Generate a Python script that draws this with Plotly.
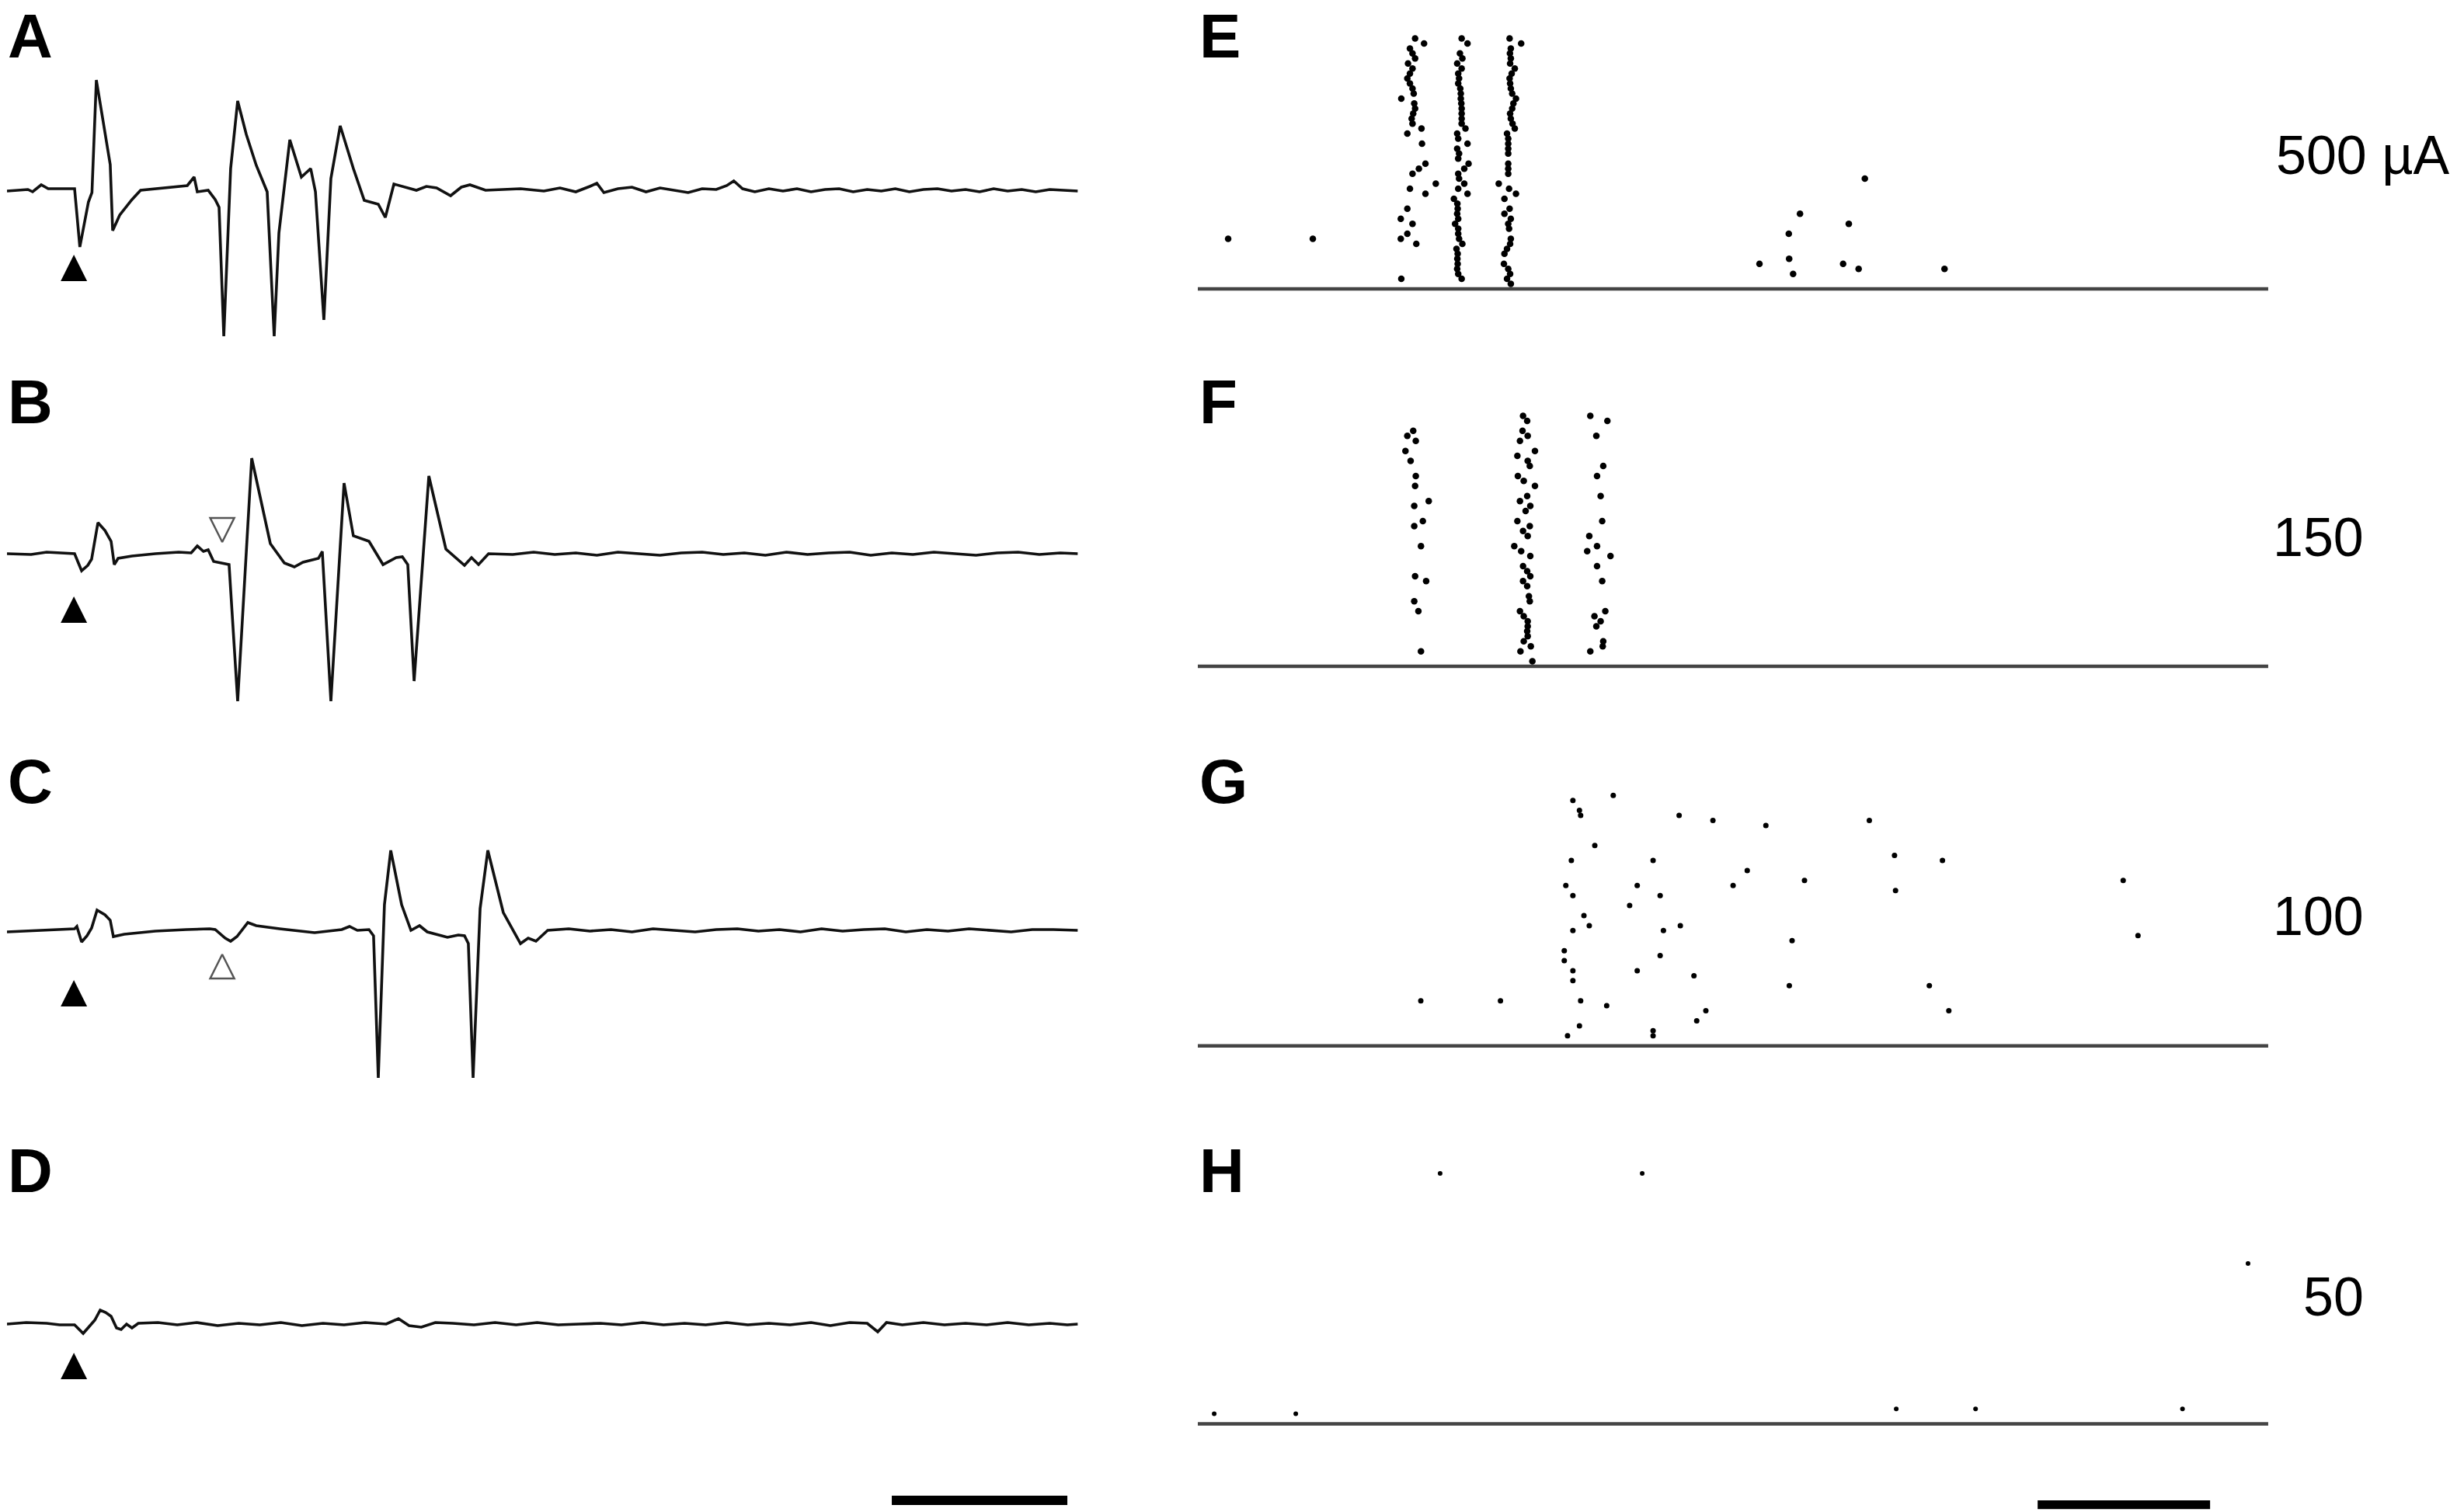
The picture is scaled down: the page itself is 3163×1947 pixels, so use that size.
import plotly.graph_objects as go

W, H = 3163, 1947

# ---------------- left column: evoked extracellular traces ----------------
# time in ms, voltage in arbitrary units (baseline = 0)
trace_a_t = [0, 1.19, 1.46, 1.95, 2.35, 3.85, 4.15, 4.64, 4.84, 5.09, 5.88, 6.02, 6.42, 7.12, 7.61,
             8.89, 10.27, 10.66, 10.84, 11.46, 11.86, 12.08, 12.35, 12.74, 13.14, 13.63, 14.20, 14.82,
             15.22, 15.49, 16.11, 16.77, 17.30, 17.57, 18.05, 18.45, 18.98, 19.73, 20.35, 21.15, 21.55,
             22.04, 22.52, 23.32, 23.89, 24.47, 25.27, 25.88, 26.37, 27.26, 29.25, 30.58,
             31.5, 32.4, 33.2, 33.6, 34.0, 34.8, 35.6, 36.4, 37.2, 38.0, 38.8, 39.6, 40.4, 41.0, 41.4,
             41.9, 42.6, 43.4, 44.2, 45.0, 45.8, 46.6, 47.4, 48.2, 49.0, 49.8, 50.6, 51.4, 52.2, 53.0,
             53.8, 54.6, 55.4, 56.2, 57.0, 57.8, 58.6, 59.4, 60.2, 61.0]
trace_a_v = [-0.01, 0.01, -0.02, 0.07, 0.02, 0.02, -0.73, -0.15, -0.03, 1.42, 0.33, -0.52, -0.32, -0.12, 0.0,
             0.03, 0.06, 0.17, -0.02, 0.0, -0.12, -0.22, -1.88, 0.28, 1.15, 0.72, 0.32, -0.02,
             -1.88, -0.55, 0.65, 0.17, 0.28, -0.02, -1.67, 0.15, 0.83, 0.28, -0.13, -0.18, -0.35,
             0.08, 0.05, 0.0, 0.05, 0.03, -0.07, 0.04, 0.07, 0.0, 0.02, -0.01,
             0.03, -0.02, 0.05, 0.09, -0.03, 0.02, 0.04, -0.02, 0.03, 0.0, -0.03, 0.02, 0.01, 0.06, 0.12,
             0.02, -0.02, 0.02, -0.01, 0.02, -0.02, 0.01, 0.02, -0.02, 0.01, -0.01, 0.02, -0.02, 0.01, 0.02,
             -0.01, 0.01, -0.02, 0.02, -0.01, 0.01, -0.02, 0.01, 0.0, -0.01]

trace_b_t = [0, 1.37, 2.26, 3.85, 4.25, 4.60, 4.82, 5.18, 5.58, 5.93, 6.11, 6.33, 7.12, 8.45, 9.78,
             10.49, 10.84, 11.19, 11.46, 11.77, 12.65, 13.14, 13.94, 15.0, 15.80, 16.37, 16.86, 17.74,
             17.96, 18.45, 19.20, 19.73, 20.62, 21.42, 22.17, 22.52, 22.83, 23.19, 24.03, 25.0, 26.06,
             26.46, 26.86, 27.43, 28.81,
             30.0, 31.2, 32.4, 33.6, 34.8, 36.0, 37.2, 38.4, 39.6, 40.8, 42.0, 43.2, 44.4, 45.6, 46.8,
             48.0, 49.2, 50.4, 51.6, 52.8, 54.0, 55.2, 56.4, 57.6, 58.8, 60.0, 61.0]
trace_b_v = [0.0, -0.01, 0.02, 0.0, -0.22, -0.15, -0.07, 0.40, 0.30, 0.16, -0.14, -0.06, -0.03, 0.0, 0.02,
             0.01, 0.10, 0.03, 0.05, -0.10, -0.14, -1.90, 1.23, 0.13, -0.12, -0.17, -0.11, -0.06,
             0.03, -1.90, 0.91, 0.23, 0.16, -0.14, -0.05, -0.04, -0.14, -1.64, 1.0, 0.06, -0.15,
             -0.05, -0.14, 0.0, -0.01,
             0.02, -0.01, 0.01, -0.02, 0.02, 0.0, -0.02, 0.01, 0.02, -0.01, 0.01, -0.02, 0.02, -0.01, 0.01,
             0.02, -0.02, 0.01, -0.01, 0.02, 0.0, -0.02, 0.01, 0.02, -0.01, 0.01, 0.0]

trace_c_t = [0, 1.81, 3.14, 3.85, 3.98, 4.25, 4.56, 4.82, 5.13, 5.58, 5.88, 6.06, 6.68, 8.45, 10.22,
             11.55, 11.86, 12.43, 12.74, 13.10, 13.72, 14.20, 15.53, 16.42, 17.52, 19.07, 19.51, 19.96,
             20.62, 20.88, 21.15, 21.50, 21.86, 22.48, 23.01, 23.50, 23.94, 25.09, 25.71, 26.06, 26.28,
             26.55, 26.95, 27.39, 28.27, 29.25, 29.69, 30.13, 30.80,
             32.0, 33.2, 34.4, 35.6, 36.8, 38.0, 39.2, 40.4, 41.6, 42.8, 44.0, 45.2, 46.4, 47.6, 48.8,
             50.0, 51.2, 52.4, 53.6, 54.8, 56.0, 57.2, 58.4, 59.6, 61.0]
trace_c_v = [-0.02, 0.0, 0.01, 0.02, 0.05, -0.15, -0.07, 0.03, 0.26, 0.20, 0.13, -0.08, -0.05, -0.01, 0.01,
             0.02, 0.01, -0.10, -0.14, -0.08, 0.10, 0.06, 0.02, 0.0, -0.03, 0.01, 0.05, 0.0,
             0.01, -0.07, -1.90, 0.33, 1.03, 0.33, 0.0, 0.06, -0.02, -0.09, -0.06, -0.07, -0.17,
             -1.90, 0.28, 1.03, 0.23, -0.17, -0.10, -0.14, 0.0,
             0.02, -0.01, 0.01, -0.02, 0.02, 0.0, -0.02, 0.01, 0.02, -0.01, 0.01, -0.02, 0.02, -0.01, 0.01,
             0.02, -0.02, 0.01, -0.01, 0.02, 0.0, -0.02, 0.01, 0.01, 0.0]

trace_d_t = [0, 1.1, 2.26, 3.0, 3.85, 4.34, 4.69, 5.0, 5.31, 5.62, 5.93, 6.24, 6.50, 6.81, 7.12, 7.48,
             8.6, 9.7, 10.8, 12.0, 13.2, 14.4, 15.6, 16.8, 18.0, 19.2, 20.4, 21.6, 22.3, 22.9, 23.6,
             24.4, 25.4, 26.6, 27.8, 29.0, 30.2, 31.4, 32.6, 33.8, 35.0, 36.2, 37.4, 38.6, 39.8, 41.0,
             42.2, 43.4, 44.6, 45.8, 46.9, 48.0, 49.0, 49.6, 50.1, 51.0, 52.2, 53.4, 54.6, 55.8, 57.0,
             58.2, 59.4, 60.4, 61.0]
trace_d_v = [0.0, 0.02, 0.01, -0.01, -0.01, -0.12, -0.03, 0.05, 0.18, 0.15, 0.10, -0.05, -0.07, 0.0, -0.05, 0.01,
             0.02, -0.01, 0.02, -0.02, 0.01, -0.01, 0.02, -0.02, 0.01, -0.01, 0.02, 0.0, 0.07, -0.02, -0.04,
             0.02, 0.01, -0.01, 0.02, -0.01, 0.02, -0.01, 0.0, 0.01, -0.01, 0.02, -0.01, 0.01, -0.01, 0.02,
             -0.01, 0.01, -0.01, 0.02, -0.02, 0.02, 0.01, -0.10, 0.02, -0.01, 0.02, -0.01, 0.01, -0.01, 0.02,
             -0.01, 0.01, -0.01, 0.0]

stim_ms = 3.81                              # filled arrowhead: stimulus artefact
stim_tip_v = [-0.83, -0.55, -0.64, -0.37]   # tip level under each trace
open_ms = 12.26                             # open arrowheads in B and C
open_tip_v = [0.15, -0.31]
left_bar_ms = [50.4, 60.4]
left_bar_v = -2.27

# ---------------- right column: raster plots (time in ms, trial number) ----------------
e_burst1_trial = [50, 49, 48, 47, 46, 45, 44, 43, 42, 41, 40, 39, 38, 37, 36, 35, 34, 33, 32, 31, 29, 25,
                  24, 23, 21, 20, 19, 16, 14, 13, 11, 10, 9, 2]
e_burst1_ms = [12.60, 13.12, 12.30, 12.45, 12.60, 12.19, 12.45, 12.30, 12.15, 12.30, 12.45, 12.52, 11.80,
               12.55, 12.60, 12.49, 12.40, 12.45, 12.97, 12.15, 13.00, 13.20, 12.82, 12.45, 13.80, 12.30,
               13.20, 12.15, 11.77, 12.45, 12.15, 11.77, 12.67, 11.80]
e_burst2_trial = [50, 49, 47, 46, 45, 44, 43, 42, 41, 40, 39, 38, 37, 36, 35, 34, 33, 32, 31, 30, 29, 28,
                  27, 26, 25, 24, 23, 22, 21, 20, 19, 18, 17, 16, 15, 14, 13, 12, 11, 10, 9, 8, 7, 6, 5,
                  4, 3, 2]
e_burst2_ms = [15.30, 15.64, 15.20, 15.34, 15.04, 15.30, 15.10, 15.15, 15.10, 15.22, 15.25, 15.25, 15.28,
               15.30, 15.30, 15.30, 15.30, 15.52, 15.04, 15.10, 15.64, 15.04, 15.15, 15.10, 15.70, 15.45,
               15.10, 15.15, 15.45, 15.10, 15.64, 14.85, 15.05, 15.07, 15.04, 15.10, 14.92, 15.10, 15.10,
               15.15, 15.34, 15.00, 15.07, 15.05, 15.07, 15.04, 15.10, 15.30]
e_burst3_trial = [50, 49, 48, 47, 46, 45, 44, 43, 42, 41, 40, 39, 38, 37, 36, 35, 34, 33, 32, 31, 30, 29,
                  28, 27, 25, 24, 23, 21, 20, 19, 18, 16, 15, 14, 13, 12, 10, 9, 8, 7, 5, 4, 3, 2, 1]
e_burst3_ms = [18.08, 18.75, 18.15, 18.10, 18.15, 18.11, 18.38, 18.20, 18.08, 18.11, 18.15, 18.23, 18.45,
               18.30, 18.23, 18.11, 18.15, 18.25, 18.38, 17.93, 18.00, 18.00, 18.00, 18.00, 18.00, 18.00,
               18.00, 17.45, 18.05, 18.45, 17.78, 18.08, 17.78, 18.15, 18.00, 18.05, 18.15, 18.11, 17.93,
               17.78, 17.75, 18.00, 18.11, 17.93, 18.15]
e_other_trial = [10, 10, 22, 15, 11, 13, 6, 5, 5, 3, 4, 4]
e_other_ms = [1.76, 6.67, 38.68, 34.92, 34.27, 37.75, 34.29, 32.57, 37.42, 34.52, 38.32, 43.30]

f_burst1_trial = [47, 46, 45, 43, 41, 38, 36, 33, 32, 29, 28, 24, 18, 17, 13, 11, 3]
f_burst1_ms = [12.49, 12.15, 12.64, 12.04, 12.34, 12.64, 12.60, 13.39, 12.55, 13.05, 12.55, 12.94, 12.60,
               13.24, 12.55, 12.79, 12.94]
f_burst2_trial = [50, 49, 47, 46, 45, 43, 42, 41, 40, 38, 37, 36, 34, 33, 32, 31, 29, 28, 27, 26, 24, 23,
                  22, 20, 19, 18, 17, 16, 14, 13, 11, 10, 9, 8, 7, 6, 5, 4, 3, 1]
f_burst2_ms = [18.86, 19.10, 18.83, 19.13, 18.68, 19.55, 18.53, 19.13, 19.25, 18.56, 18.90, 19.55, 19.10,
               18.68, 19.28, 19.01, 18.53, 19.25, 18.86, 19.13, 18.35, 18.75, 19.28, 18.86, 19.10, 19.28,
               18.86, 19.10, 19.20, 19.25, 18.68, 18.90, 19.13, 19.13, 19.10, 19.13, 18.90, 19.31, 18.71,
               19.40]
f_burst3_trial = [50, 49, 46, 40, 38, 34, 29, 26, 24, 23, 22, 20, 17, 11, 10, 9, 8, 5, 4, 3]
f_burst3_ms = [22.76, 23.75, 23.11, 23.51, 23.15, 23.36, 23.45, 22.70, 23.15, 22.58, 23.93, 23.15, 23.45,
               23.63, 23.00, 23.36, 23.11, 23.51, 23.48, 22.76]

g_trial = [50, 49, 47, 46, 46, 45, 44, 45, 40, 37, 37, 38, 37, 35, 32, 33, 32, 32, 30, 30, 31, 28, 33, 26,
           24, 23, 23, 24, 22, 21, 19, 17, 18, 15, 15, 14, 13, 12, 12, 9, 9, 8, 7, 5, 7, 4, 2, 3, 2, 9]
g_ms = [24.09, 21.75, 22.13, 22.20, 27.91, 29.87, 32.94, 38.94, 23.02, 21.66, 26.40, 40.40, 43.18, 31.86,
        31.04, 35.18, 21.34, 25.48, 21.75, 26.81, 40.46, 25.04, 53.66, 22.39, 22.70, 21.75, 27.00, 27.98,
        54.52, 34.46, 21.25, 21.25, 26.81, 21.75, 25.48, 28.77, 21.75, 34.30, 42.42, 17.55, 22.20, 23.71,
        29.46, 28.93, 43.55, 22.13, 21.44, 26.40, 26.40, 12.93]

h_trial = [2, 2, 3, 3, 3, 50, 50, 32]
h_ms = [0.95, 5.68, 40.50, 45.10, 57.10, 14.05, 25.77, 60.90]

currents = ["500 µA", "150", "100", "50"]
raster_end_ms = 62.07
right_bar_ms = [48.7, 58.7]
right_bar_trial = -16.2

# ---------------- geometry (pixels of the 3163 x 1947 page) ----------------
def xdom(a, b):
    return [a / W, b / W]


def ydom(top, bottom):
    return [1 - bottom / H, 1 - top / H]


left_px_per_ms, left_x0 = 22.6, 9
left_range = [0, 61]
baselines_px = [245, 713, 1198, 1705]
v_range = [-2.4, 2.0]          # 100 px per unit

right_px_per_ms, right_x0 = 22.2, 1542
right_range = [0, 62.1]
raster_axis_px = [372, 858, 1346.7, 1833.5]
trial_px = 6.45
trial_range = [-17, 55]

fig = go.Figure()
layout = dict(width=W, height=H, margin=dict(l=0, r=0, t=0, b=0),
              paper_bgcolor="white", plot_bgcolor="white", showlegend=False)

ink = "#111111"
hidden = dict(visible=False, fixedrange=True)

left_traces = [(trace_a_t, trace_a_v), (trace_b_t, trace_b_v), (trace_c_t, trace_c_v), (trace_d_t, trace_d_v)]
for i, (tt, vv) in enumerate(left_traces):
    n = i + 1
    xa, ya = ("x", "y") if n == 1 else (f"x{n}", f"y{n}")
    base = baselines_px[i]
    layout["xaxis" if n == 1 else f"xaxis{n}"] = dict(
        domain=xdom(left_x0, left_x0 + left_range[1] * left_px_per_ms), range=left_range,
        anchor=ya, **hidden)
    layout["yaxis" if n == 1 else f"yaxis{n}"] = dict(
        domain=ydom(base - v_range[1] * 100, base - v_range[0] * 100), range=v_range,
        anchor=xa, **hidden)
    fig.add_trace(go.Scatter(x=tt, y=vv, xaxis=xa, yaxis=ya, mode="lines",
                             line=dict(color=ink, width=3.6), hoverinfo="skip"))
    fig.add_trace(go.Scatter(x=[stim_ms], y=[stim_tip_v[i]], xaxis=xa, yaxis=ya, mode="markers",
                             marker=dict(symbol="arrow-up", size=34, color="black", line=dict(width=0)),
                             hoverinfo="skip", cliponaxis=False))
    if i in (1, 2):
        fig.add_trace(go.Scatter(x=[open_ms], y=[open_tip_v[i - 1]], xaxis=xa, yaxis=ya, mode="markers",
                                 marker=dict(symbol="arrow-down-open" if i == 1 else "arrow-up-open",
                                             size=31, color="#555555", line=dict(width=2.5, color="#555555")),
                                 hoverinfo="skip", cliponaxis=False))
    if i == 3:
        fig.add_trace(go.Scatter(x=left_bar_ms, y=[left_bar_v, left_bar_v], xaxis=xa, yaxis=ya,
                                 mode="lines", line=dict(color="black", width=12), hoverinfo="skip"))

rasters = [
    [(e_burst1_ms, e_burst1_trial), (e_burst2_ms, e_burst2_trial), (e_burst3_ms, e_burst3_trial),
     (e_other_ms, e_other_trial)],
    [(f_burst1_ms, f_burst1_trial), (f_burst2_ms, f_burst2_trial), (f_burst3_ms, f_burst3_trial)],
    [(g_ms, g_trial)],
    [(h_ms, h_trial)],
]
dot_size = [8.5, 8.5, 7, 6]
for i, groups in enumerate(rasters):
    n = i + 5
    xa, ya = f"x{n}", f"y{n}"
    ax = raster_axis_px[i]
    layout[f"xaxis{n}"] = dict(domain=xdom(right_x0, right_x0 + right_range[1] * right_px_per_ms),
                               range=right_range, anchor=ya, **hidden)
    layout[f"yaxis{n}"] = dict(domain=ydom(ax - trial_range[1] * trial_px, ax - trial_range[0] * trial_px),
                               range=trial_range, anchor=xa, **hidden)
    fig.add_trace(go.Scatter(x=[0, raster_end_ms], y=[0, 0], xaxis=xa, yaxis=ya, mode="lines",
                             line=dict(color="#444444", width=4.5), hoverinfo="skip"))
    for ms, tr in groups:
        fig.add_trace(go.Scatter(x=ms, y=tr, xaxis=xa, yaxis=ya, mode="markers",
                                 marker=dict(symbol="circle", size=dot_size[i], color="black",
                                             line=dict(width=0)),
                                 hoverinfo="skip", cliponaxis=False))
    if i == 3:
        fig.add_trace(go.Scatter(x=right_bar_ms, y=[right_bar_trial, right_bar_trial], xaxis=xa, yaxis=ya,
                                 mode="lines", line=dict(color="black", width=12), hoverinfo="skip"))

# panel letters and stimulus intensities
letter_font = dict(family="Liberation Sans, Arial, sans-serif", size=80, color="black")
label_font = dict(family="Liberation Sans, Arial, sans-serif", size=70, color="black")
letter_rows = [41.5, 518, 1006, 1507]
annotations = []
for k, row in enumerate(letter_rows):
    for letters, x_px in (("ABCD", 8), ("EFGH", 1542)):
        if k == 0:
            y_pos, y_anchor = 1.0, "top"
        else:
            y_pos, y_anchor = 1 - row / H, "middle"
        annotations.append(dict(text=f"<b>{letters[k]}</b>", x=x_px / W, y=y_pos, xref="paper",
                                yref="paper", xanchor="left", yanchor=y_anchor, showarrow=False,
                                font=letter_font))
label_rows = [200, 692, 1180, 1670]
for k, txt in enumerate(currents):
    if k == 0:
        x_px, anchor = 2928, "left"
    else:
        x_px, anchor = 3045, "right"
    annotations.append(dict(text=txt, x=x_px / W, y=1 - label_rows[k] / H, xref="paper", yref="paper",
                            xanchor=anchor, yanchor="middle", showarrow=False, font=label_font))
layout["annotations"] = annotations

fig.update_layout(**layout)
fig.write_html("out.html", config={"displayModeBar": False},
               post_script="document.body.style.margin='0';")
